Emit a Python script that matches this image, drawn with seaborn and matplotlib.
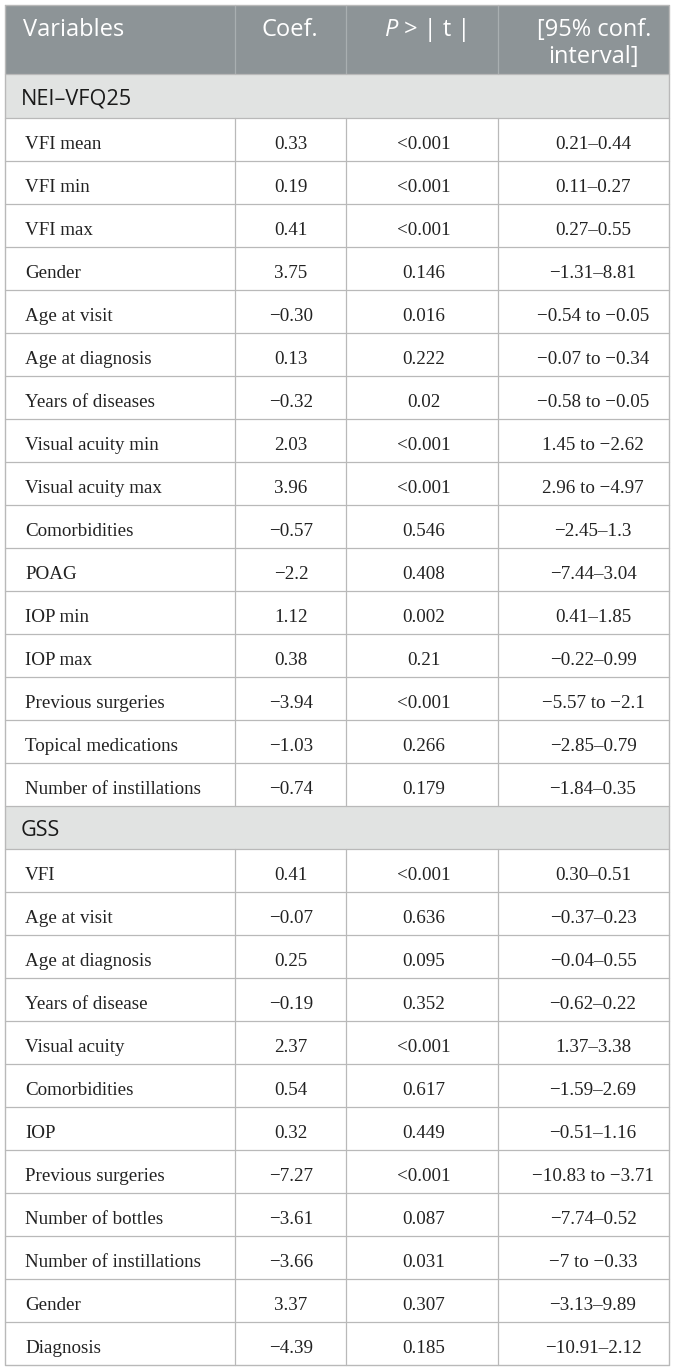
import matplotlib
matplotlib.use('Agg')
import matplotlib.pyplot as plt
import seaborn as sns

# --- table content ---
header_cols = ["Variables", "Coef.", "P > | t |", "[95% conf.\ninterval]"]

nei_label = "NEI\u2013VFQ25"
nei_vars = ["VFI mean", "VFI min", "VFI max", "Gender", "Age at visit",
            "Age at diagnosis", "Years of diseases", "Visual acuity min",
            "Visual acuity max", "Comorbidities", "POAG", "IOP min", "IOP max",
            "Previous surgeries", "Topical medications", "Number of instillations"]
nei_coef = ["0.33", "0.19", "0.41", "3.75", "\u22120.30", "0.13", "\u22120.32", "2.03",
            "3.96", "\u22120.57", "\u22122.2", "1.12", "0.38", "\u22123.94", "\u22121.03", "\u22120.74"]
nei_p = ["<0.001", "<0.001", "<0.001", "0.146", "0.016", "0.222", "0.02", "<0.001",
         "<0.001", "0.546", "0.408", "0.002", "0.21", "<0.001", "0.266", "0.179"]
nei_ci = ["0.21\u20130.44", "0.11\u20130.27", "0.27\u20130.55", "\u22121.31\u20138.81",
          "\u22120.54 to \u22120.05", "\u22120.07 to \u22120.34", "\u22120.58 to \u22120.05",
          "1.45 to \u22122.62", "2.96 to \u22124.97", "\u22122.45\u20131.3", "\u22127.44\u20133.04",
          "0.41\u20131.85", "\u22120.22\u20130.99", "\u22125.57 to \u22122.1", "\u22122.85\u20130.79",
          "\u22121.84\u20130.35"]

gss_label = "GSS"
gss_vars = ["VFI", "Age at visit", "Age at diagnosis", "Years of disease", "Visual acuity",
            "Comorbidities", "IOP", "Previous surgeries", "Number of bottles",
            "Number of instillations", "Gender", "Diagnosis"]
gss_coef = ["0.41", "\u22120.07", "0.25", "\u22120.19", "2.37", "0.54", "0.32", "\u22127.27",
            "\u22123.61", "\u22123.66", "3.37", "\u22124.39"]
gss_p = ["<0.001", "0.636", "0.095", "0.352", "<0.001", "0.617", "0.449", "<0.001",
         "0.087", "0.031", "0.307", "0.185"]
gss_ci = ["0.30\u20130.51", "\u22120.37\u20130.23", "\u22120.04\u20130.55", "\u22120.62\u20130.22",
          "1.37\u20133.38", "\u22121.59\u20132.69", "\u22120.51\u20131.16", "\u221210.83 to \u22123.71",
          "\u22127.74\u20130.52", "\u22127 to \u22120.33", "\u22123.13\u20139.89", "\u221210.91\u20132.12"]

sections = [(nei_label, nei_vars, nei_coef, nei_p, nei_ci),
            (gss_label, gss_vars, gss_coef, gss_p, gss_ci)]

# --- style ---
sns.set_style("white")
plt.rcParams['font.family'] = ['Open Sans', 'DejaVu Sans']

W, H = 674, 1370
left, right = 5, 669
col_lines = [234.5, 346, 498]
header_top, header_bot = 5, 74
sec_h, row_h = 43.5, 43

header_color = "#8d9497"
section_color = "#e1e3e2"
line_color = "#b9b9b9"
body_font = ['Liberation Serif', 'DejaVu Serif']
hdr_size, sec_size, body_size = 17, 15.6, 13.7

fig = plt.figure(figsize=(W / 100, H / 100), dpi=100)
ax = fig.add_axes([0, 0, 1, 1])
ax.set_xlim(0, W)
ax.set_ylim(H, 0)
ax.axis('off')

# header
ax.fill_between([left, right], header_top, header_bot, color=header_color, lw=0)
for x in col_lines:
    ax.plot([x, x], [header_top, header_bot], color="#a9afb1", lw=0.9)
ax.text(23, 36, header_cols[0], color='white', fontsize=hdr_size, va='baseline', ha='left')
ax.text(290, 36, header_cols[1], color='white', fontsize=hdr_size, va='baseline', ha='center')
ax.text(398, 36, "P", color='white', fontsize=hdr_size, va='baseline', ha='right', style='italic')
ax.text(398, 36, " > | t |", color='white', fontsize=hdr_size, va='baseline', ha='left')
line1, line2 = header_cols[3].split("\n")
ax.text(594, 36, line1, color='white', fontsize=hdr_size, va='baseline', ha='center')
ax.text(593, 63, line2, color='white', fontsize=hdr_size, va='baseline', ha='center')

y = header_bot
for label, vars_, coefs, ps, cis in sections:
    ax.fill_between([left, right], y, y + sec_h, color=section_color, lw=0)
    ax.plot([left, right], [y, y], color=line_color, lw=0.9)
    ax.text(21, y + 30, label, color='#1a1a1a', fontsize=sec_size, va='baseline', ha='left')
    y += sec_h
    for v, c, p, ci in zip(vars_, coefs, ps, cis):
        ax.plot([left, right], [y, y], color=line_color, lw=0.9)
        for x in col_lines:
            ax.plot([x, x], [y, y + row_h], color=line_color, lw=0.9)
        base = y + 31
        ax.text(25, base, v, family=body_font, fontsize=body_size, color='#222222', va='baseline', ha='left')
        ax.text(291, base, c, family=body_font, fontsize=body_size, color='#222222', va='baseline', ha='center')
        ax.text(424, base, p, family=body_font, fontsize=body_size, color='#222222', va='baseline', ha='center')
        ax.text(593, base, ci, family=body_font, fontsize=body_size, color='#222222', va='baseline', ha='center')
        y += row_h

# outer border
ax.plot([left, right, right, left, left], [header_top, header_top, y, y, header_top],
        color=line_color, lw=1.0)

fig.savefig("out.png", dpi=100)
